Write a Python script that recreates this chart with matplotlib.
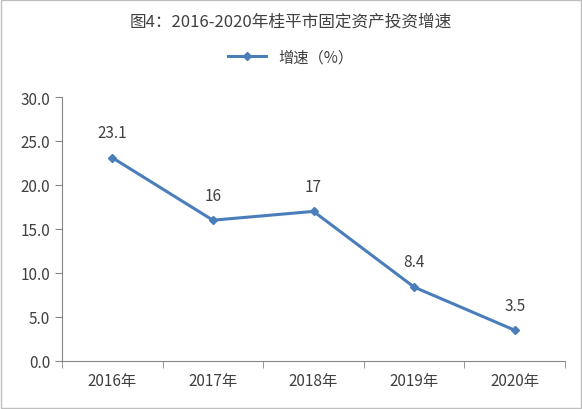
import matplotlib
matplotlib.use("Agg")
import matplotlib.pyplot as plt
from matplotlib.patches import Rectangle

plt.rcParams['font.family'] = ['Noto Sans CJK SC', 'DejaVu Sans']

years = ["2016年", "2017年", "2018年", "2019年", "2020年"]
growth = [23.1, 16, 17, 8.4, 3.5]
value_labels = ["23.1", "16", "17", "8.4", "3.5"]
yticks = [0, 5, 10, 15, 20, 25, 30]

line_color = "#4A7EBB"
text_color = "#404040"

fig = plt.figure(figsize=(5.82, 4.10), dpi=100)
fig.patches.append(Rectangle((0.002, 0.002), 0.996, 0.996, transform=fig.transFigure,
                             fill=False, edgecolor="#BFBFBF", linewidth=1))
ax = fig.add_axes([62 / 582, 1 - 362 / 410, (565 - 62) / 582, (362 - 98) / 410])

x = list(range(len(years)))
ax.plot(x, growth, color=line_color, linewidth=2.2, marker="D", markersize=4,
        label="增速（%）")
for xi, yi, lab in zip(x, growth, value_labels):
    ax.annotate(lab, (xi, yi), xytext=(0, 12), textcoords="offset points",
                ha="center", va="bottom", fontsize=11, color=text_color)

ax.set_xlim(-0.5, len(years) - 0.5)
ax.set_ylim(0, 30)
ax.set_yticks(yticks)
ax.set_yticklabels([f"{v:.1f}" for v in yticks], fontsize=11, color=text_color)
ax.set_xticks(x)
ax.set_xticklabels(years, fontsize=11, color=text_color)
ax.set_xticks([i + 0.5 for i in range(-1, len(years))], minor=True)
ax.tick_params(axis="x", which="major", length=0, pad=8)
ax.tick_params(axis="x", which="minor", length=5, color="#868686")
ax.tick_params(axis="y", length=5, color="#868686", direction="out")
for s in ["top", "right"]:
    ax.spines[s].set_visible(False)
for s in ["left", "bottom"]:
    ax.spines[s].set_color("#868686")

fig.text(0.5, 1 - 22 / 410, "图4：2016-2020年桂平市固定资产投资增速", ha="center",
         va="center", fontsize=12, color=text_color)
fig.legend(loc="center", bbox_to_anchor=(0.5, 1 - 58 / 410), frameon=False,
           fontsize=11, handlelength=2.5, labelcolor=text_color)

fig.savefig("out.png", dpi=100)
